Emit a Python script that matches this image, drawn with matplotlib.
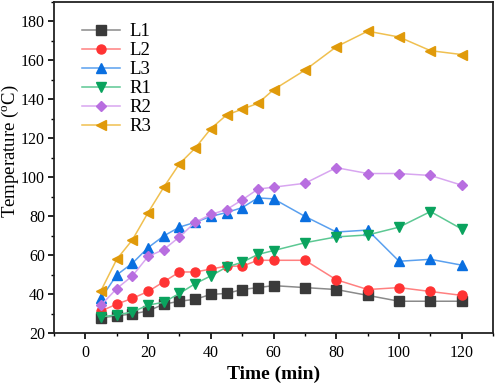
import matplotlib
matplotlib.use("Agg")
import matplotlib.pyplot as plt
from matplotlib.ticker import MultipleLocator

plt.rcParams['font.family'] = ['Liberation Serif', 'DejaVu Serif']
plt.rcParams['mathtext.fontset'] = 'custom'
plt.rcParams['mathtext.rm'] = 'Liberation Serif'

time = [5, 10, 15, 20, 25, 30, 35, 40, 45, 50, 55, 60, 70, 80, 90, 100, 110, 120]
L1 = [28, 29, 30, 31.5, 35, 36.5, 37.5, 40, 40.5, 42.5, 43.5, 44.5, 43.5, 42.5, 39.5, 36.5, 36.5, 36.5]
L2 = [31.5, 35, 38, 41.5, 46.5, 51.5, 51.5, 53, 54.5, 54.5, 57.5, 57.5, 57.5, 47.5, 42.5, 43.5, 41.5, 39.5]
L3 = [38, 50, 56, 64, 70, 74.5, 77, 80, 82, 84.5, 89.5, 89, 80, 72, 73, 57, 58, 55]
R1 = [28.5, 29.5, 31, 34.5, 36, 40.5, 45.5, 49.5, 54, 56.5, 60.5, 62.5, 66.5, 69.5, 70.5, 74.5, 82.5, 73.5]
R2 = [34.5, 43, 49.5, 59.5, 63, 69.5, 77, 81, 83.5, 88.5, 94, 95, 97, 105, 102, 102, 101, 96]
R3 = [42, 58, 68, 82, 95, 107, 115, 125, 132, 135, 138, 145, 155, 167, 175, 172, 165, 163]

series = [
    ("L1", L1, 's', '#3a3a3a', '#8a8a8a'),
    ("L2", L2, 'o', '#ff3333', '#ff8080'),
    ("L3", L3, '^', '#0a6fe0', '#5aa0ef'),
    ("R1", R1, 'v', '#0aa35e', '#5cc893'),
    ("R2", R2, 'D', '#b86ee0', '#d8a6f0'),
    ("R3", R3, '<', '#e09a0a', '#f0c050'),
]

fig = plt.figure(figsize=(4.98, 3.85), dpi=100)
ax = fig.add_axes([0.1084, 0.134, 0.882, 0.861])

for name, vals, mk, mc, lc in series:
    ms = 5.5 if mk == 'D' else 6.5
    ax.plot(time, vals, color=lc, linewidth=1.1, marker=mk, markersize=ms,
            markerfacecolor=mc, markeredgecolor=mc, label=name)

ax.set_xlim(-10, 130)
ax.set_ylim(20, 190)
ax.xaxis.set_major_locator(MultipleLocator(20))
ax.xaxis.set_minor_locator(MultipleLocator(10))
ax.yaxis.set_major_locator(MultipleLocator(20))
ax.yaxis.set_minor_locator(MultipleLocator(10))
ax.set_yticks([20, 40, 60, 80, 100, 120, 140, 160, 180])
ax.tick_params(which='major', direction='out', length=4, width=1.2, labelsize=11.5, pad=2.5,
               top=False, right=False)
ax.tick_params(which='minor', direction='out', length=2.5, width=1.0, top=False, right=False)
ax.tick_params(axis='x', which='major', pad=4)
for s in ax.spines.values():
    s.set_linewidth(1.3)
    s.set_color('#222222')

ax.set_xlabel('Time (min)', fontsize=14, fontweight='bold', labelpad=4)
ax.set_ylabel('Temperature ($\\mathregular{^o}$C)', fontsize=13.5)
ax.yaxis.set_label_coords(-0.074, 0.55)

ax.legend(loc='upper left', bbox_to_anchor=(0.035, 0.975), frameon=False, fontsize=13.5,
          handlelength=2.0, labelspacing=0.1, handletextpad=0.5, borderaxespad=0.3)

fig.savefig('out.png', dpi=100)
